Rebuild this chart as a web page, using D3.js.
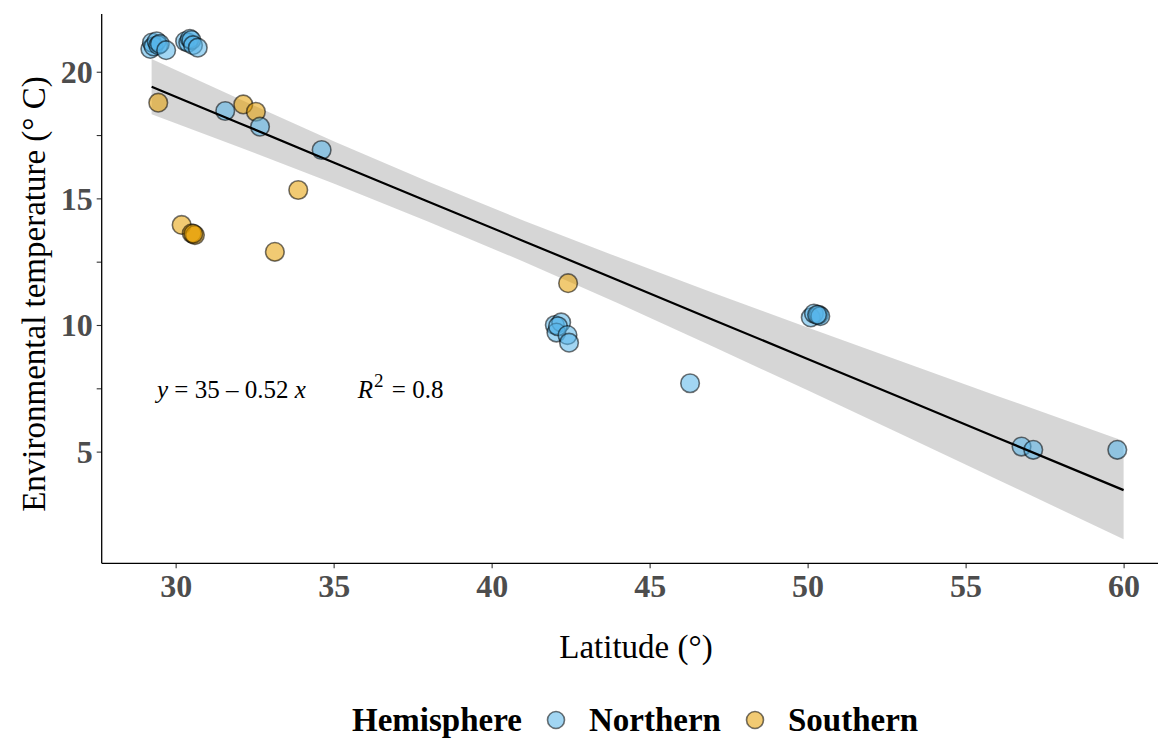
<!DOCTYPE html>
<html>
<head>
<meta charset="utf-8">
<script src="https://cdn.jsdelivr.net/npm/d3@7"></script>
<style>
  html, body { margin: 0; padding: 0; background: #fff; }
  svg { display: block; }
</style>
</head>
<body>
<svg id="chart" width="1158" height="738"></svg>
<script>
// ---- data ----
const northLat  = [29.2, 29.25, 29.3, 29.4, 29.45, 29.5, 29.7, 30.3, 30.4, 30.45, 30.5, 30.55, 30.7,
                   31.57, 32.67, 34.62,
                   42.0, 42.2, 42.05, 42.1, 42.4, 42.45, 46.28, 50.1, 50.2, 50.35, 50.4, 50.3,
                   56.77, 57.14, 59.8];
const northTemp = [20.9, 21.15, 21.0, 21.2, 21.05, 21.1, 20.85, 21.2, 21.15, 21.3, 21.25, 21.05, 20.95,
                   18.45, 17.83, 16.91,
                   10.0, 10.1, 9.7, 9.95, 9.6, 9.3, 7.7, 10.3, 10.45, 10.4, 10.35, 10.4,
                   5.2, 5.07, 5.07];
const southLat  = [29.45, 32.14, 32.54, 33.88, 30.19, 30.51, 30.61, 30.56, 33.14, 42.42];
const southTemp = [18.78, 18.71, 18.42, 15.33, 13.95, 13.62, 13.55, 13.6, 12.89, 11.65];

// fitted line and 95% band
const fitLat   = [29.24, 32, 35, 38, 41, 44, 47, 50, 53, 56, 60];
const fitTemp  = [19.41, 17.98, 16.42, 14.87, 13.32, 11.77, 10.21, 8.66, 7.11, 5.55, 3.48];
const fitLower = [18.32, 17.03, 15.59, 14.08, 12.51, 10.86, 9.15, 7.42, 5.67, 3.90, 1.54];
const fitUpper = [20.50, 18.93, 17.26, 15.66, 14.13, 12.68, 11.27, 9.90, 8.55, 7.20, 5.42];

const xTicks = [30, 35, 40, 45, 50, 55, 60];
const yTicks = [5, 7.5, 10, 12.5, 15, 17.5, 20];
const groups = ["Northern", "Southern"];
const groupColors = ["#56B4E9", "#E69F00"];

// ---- layout ----
const svg = d3.select("#chart");
const panel = { left: 101.7, right: 1168.8, top: 14, bottom: 563.3 };
const x = d3.scaleLinear().domain([27.66, 61.43]).range([panel.left, panel.right]);
const y = d3.scaleLinear().domain([0.59, 22.28]).range([panel.bottom, panel.top]);
const color = d3.scaleOrdinal().domain(groups).range(groupColors);
const serif = "'Liberation Serif', 'Times New Roman', serif";

svg.append("defs").append("clipPath").attr("id", "clip")
  .append("rect").attr("x", panel.left).attr("y", panel.top)
  .attr("width", panel.right - panel.left).attr("height", panel.bottom - panel.top);

const plot = svg.append("g").attr("clip-path", "url(#clip)");

const fitRows = fitLat.map((v, i) => ({ lat: v, t: fitTemp[i], lo: fitLower[i], hi: fitUpper[i] }));

// band
plot.append("path").datum(fitRows)
  .attr("d", d3.area().x(d => x(d.lat)).y0(d => y(d.lo)).y1(d => y(d.hi)))
  .attr("fill", "#999999").attr("fill-opacity", 0.4);

// points
const pts = southLat.map((v, i) => ({ lat: v, t: southTemp[i], g: "Southern" }))
  .concat(northLat.map((v, i) => ({ lat: v, t: northTemp[i], g: "Northern" })));

plot.selectAll("circle.pt").data(pts).join("circle")
  .attr("class", "pt")
  .attr("cx", d => x(d.lat)).attr("cy", d => y(d.t)).attr("r", 9.3)
  .attr("fill", d => color(d.g)).attr("fill-opacity", 0.55)
  .attr("stroke", "#000").attr("stroke-opacity", 0.55).attr("stroke-width", 1.6);

// fitted line
plot.append("path").datum(fitRows)
  .attr("d", d3.line().x(d => x(d.lat)).y(d => y(d.t)))
  .attr("fill", "none").attr("stroke", "#000").attr("stroke-width", 2.2);

// ---- axes ----
const xAxis = svg.append("g").attr("transform", `translate(0,${panel.bottom})`)
  .call(d3.axisBottom(x).tickValues(xTicks).tickSize(5).tickPadding(6).tickFormat(d3.format("d")));
const yAxis = svg.append("g").attr("transform", `translate(${panel.left},0)`)
  .call(d3.axisLeft(y).tickValues(yTicks).tickSize(5).tickPadding(5)
    .tickFormat(d => (d % 5 === 0 ? d3.format("d")(d) : "")));

[xAxis, yAxis].forEach(a => {
  a.select(".domain").remove();
  a.selectAll(".tick line").attr("stroke", "#333").attr("stroke-width", 1.1);
  a.selectAll(".tick text").attr("font-family", serif).attr("font-weight", "bold")
    .attr("font-size", 32).attr("fill", "#4d4d4d");
});
xAxis.selectAll(".tick text").attr("dy", null).attr("y", 34);
yAxis.selectAll(".tick text").attr("dy", "0.34em").attr("x", -9);

svg.append("line").attr("x1", panel.left).attr("x2", 1158)
  .attr("y1", panel.bottom).attr("y2", panel.bottom).attr("stroke", "#000").attr("stroke-width", 1.3);
svg.append("line").attr("x1", panel.left).attr("x2", panel.left)
  .attr("y1", panel.top).attr("y2", panel.bottom).attr("stroke", "#000").attr("stroke-width", 1.3);

// ---- titles ----
svg.append("text").attr("x", 636).attr("y", 658)
  .attr("text-anchor", "middle").attr("font-family", serif).attr("font-size", 33)
  .text("Latitude (°)");

svg.append("text").attr("transform", "translate(45,294) rotate(-90)")
  .attr("text-anchor", "middle").attr("font-family", serif).attr("font-size", 33)
  .text("Environmental temperature (° C)");

// equation label
const eq = svg.append("text").attr("x", 157).attr("y", 398)
  .attr("font-family", serif).attr("font-size", 25).attr("fill", "#000");
eq.append("tspan").attr("font-style", "italic").text("y");
eq.append("tspan").text(" = 35 \u2013 0.52 ");
eq.append("tspan").attr("font-style", "italic").text("x");
eq.append("tspan").attr("dx", 52).attr("font-style", "italic").text("R");
eq.append("tspan").attr("font-size", 19).attr("dy", -11).attr("dx", 1).text("2");
eq.append("tspan").attr("dy", 11).attr("dx", 2).text(" = 0.8");

// ---- legend ----
const legY = 720;
svg.append("text").attr("x", 352).attr("y", legY + 11)
  .attr("font-family", serif).attr("font-weight", "bold").attr("font-size", 33)
  .text("Hemisphere");
const legX = [556, 755];
groups.forEach((g, i) => {
  svg.append("circle").attr("cx", legX[i]).attr("cy", legY).attr("r", 8.5)
    .attr("fill", color(g)).attr("fill-opacity", 0.55)
    .attr("stroke", "#000").attr("stroke-opacity", 0.55).attr("stroke-width", 1.6);
  svg.append("text").attr("x", legX[i] + 33).attr("y", legY + 11)
    .attr("font-family", serif).attr("font-weight", "bold").attr("font-size", 33)
    .text(g);
});
</script>
</body>
</html>
